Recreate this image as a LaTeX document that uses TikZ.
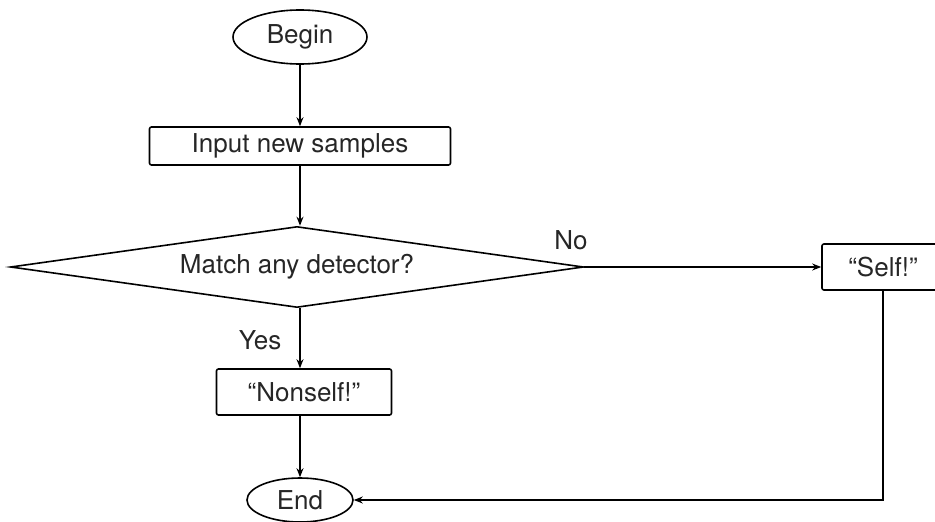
\documentclass[tikz,border=0pt]{standalone}
\usepackage{fontspec}
\setmainfont{TeX Gyre Heros}
\usetikzlibrary{shapes.geometric,arrows.meta}
\begin{document}
\begin{tikzpicture}[x=1pt,y=-1pt,
  every node/.style={font=\fontsize{26}{31}\selectfont, text=black!85, inner sep=0pt},
  term/.style={ellipse, draw, line width=1.6pt},
  proc/.style={rectangle, draw, line width=1.6pt, rounded corners=2pt},
  decision/.style={diamond, draw, line width=1.6pt, shape aspect=7.1},
  conn/.style={line width=1.6pt, -{Stealth[length=9pt,width=7pt]}},
  lbl/.style={}]
\useasboundingbox (0,0) rectangle (935,522);
\node[term, minimum width=134pt, minimum height=54pt] (begin) at (300,37) {Begin};
\node[proc, minimum width=301pt, minimum height=38pt] (input) at (300,146) {Input new samples};
\node[decision, minimum width=573pt, minimum height=81pt] (match) at (297,267) {Match any detector?};
\node[proc, minimum width=122pt, minimum height=46pt] (self) at (883,267) {``Self!''};
\node[proc, minimum width=175pt, minimum height=46pt] (nonself) at (304,392) {``Nonself!''};
\node[term, minimum width=106pt, minimum height=44pt] (end) at (300,500) {End};
\node[lbl] (yes) at (260,340) {Yes};
\node[lbl] (no) at (571,240) {No};
\draw[conn] (begin.south) -- (input.north);
\draw[conn] (input.south) -- (input.south |- match.north);
\draw[conn] (match.south -| input.south) -- (input.south |- nonself.north);
\draw[conn] (match.east) -- (self.west);
\draw[conn] (nonself.south -| end.north) -- (end.north);
\draw[conn] (self.south) |- (end.east);
\end{tikzpicture}
\end{document}
